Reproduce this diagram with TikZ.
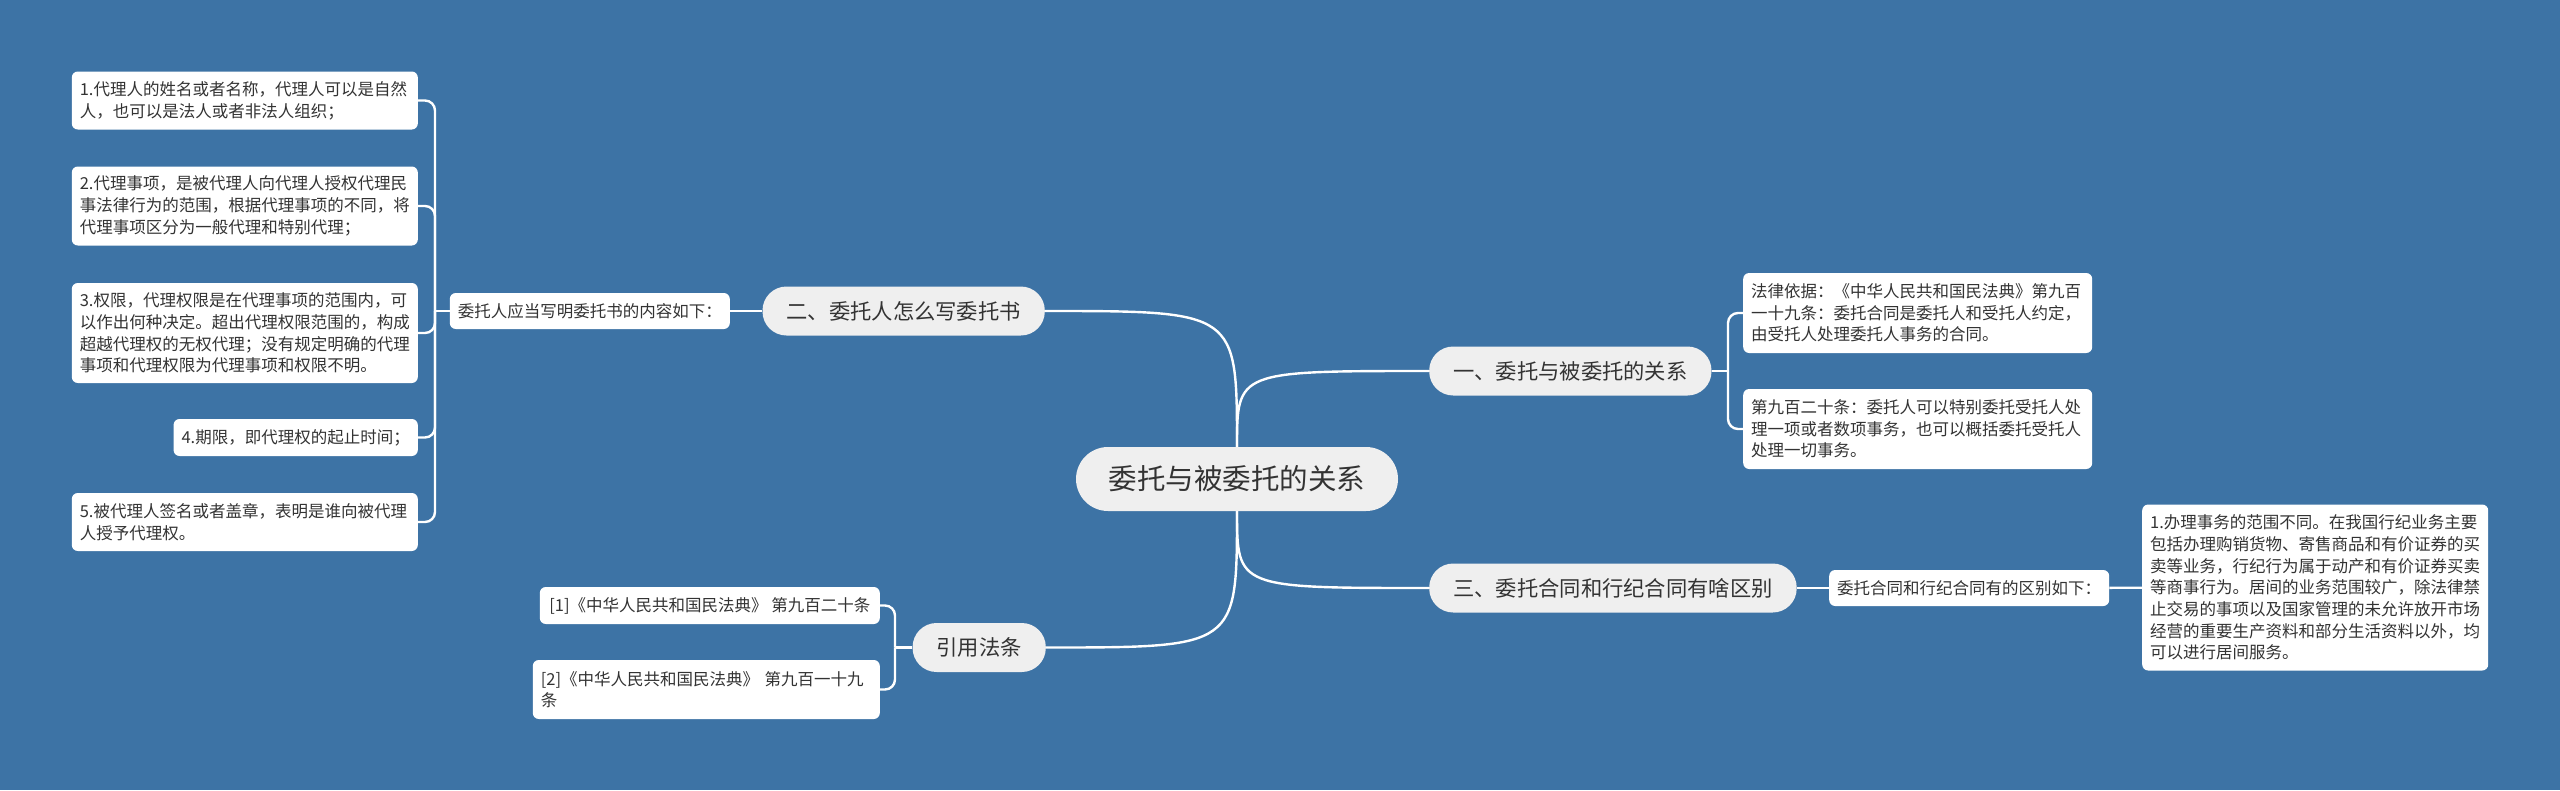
\documentclass[tikz,border=0pt]{standalone}
\usepackage{fontspec}
\setmainfont{Noto Sans CJK SC}
\definecolor{bgblue}{HTML}{3D73A5}
\definecolor{pillgray}{HTML}{EFEFEF}
\definecolor{inkgray}{HTML}{333333}
\tikzset{
	pill/.style={fill=pillgray,text=inkgray,rounded corners=24pt,minimum height=49pt,inner xsep=24pt,inner ysep=0pt,font=\fontsize{21.3}{25}\selectfont},
	leafbox/.style={fill=white,text=inkgray,rounded corners=6pt,inner xsep=8pt,inner ysep=0pt,align=left,font=\fontsize{16.5}{21.7}\selectfont},
	wire/.style={white,line width=2.4pt},
}
\begin{document}
\begin{tikzpicture}[x=1pt,y=-1pt]
		\fill[bgblue] (0,0) rectangle (2560,790);
		\node[pill,font=\fontsize{28.5}{33}\selectfont,rounded corners=32pt,minimum height=64pt,minimum width=322pt,inner xsep=0pt] (root) at (1237,479) {委托与被委托的关系};
		\node[pill,anchor=east] (br2) at (1045,311) {二、委托人怎么写委托书};
		\node[pill,anchor=west] (br1) at (1429,371) {一、委托与被委托的关系};
		\node[pill,anchor=west] (br3) at (1429,588) {三、委托合同和行纪合同有啥区别};
		\node[pill,anchor=east] (br4) at (1046,647.5) {引用法条};
		\node[leafbox,anchor=east,minimum height=36pt] (sub2) at (730,311) {委托人应当写明委托书的内容如下：};
		\node[leafbox,anchor=west,minimum height=36pt] (sub3) at (1829,588) {委托合同和行纪合同有的区别如下：};
		\node[leafbox,anchor=east,text width=330pt,minimum height=58pt] (l1) at (418,100.5) {1.代理人的姓名或者名称，代理人可以是自然\\人，也可以是法人或者非法人组织；};
		\node[leafbox,anchor=east,text width=330pt,minimum height=79pt] (l2) at (418,206) {2.代理事项，是被代理人向代理人授权代理民\\事法律行为的范围，根据代理事项的不同，将\\代理事项区分为一般代理和特别代理；};
		\node[leafbox,anchor=east,text width=330pt,minimum height=100pt] (l3) at (418,333) {3.权限，代理权限是在代理事项的范围内，可\\以作出何种决定。超出代理权限范围的，构成\\超越代理权的无权代理；没有规定明确的代理\\事项和代理权限为代理事项和权限不明。};
		\node[leafbox,anchor=east,minimum height=37pt] (l4) at (418,437.5) {4.期限，即代理权的起止时间；};
		\node[leafbox,anchor=east,text width=330pt,minimum height=58pt] (l5) at (418,522) {5.被代理人签名或者盖章，表明是谁向被代理\\人授予代理权。};
		\node[leafbox,anchor=east,minimum height=37pt,minimum width=340pt] (c1) at (880,605.5) {[1]《中华人民共和国民法典》 第九百二十条};
		\node[leafbox,anchor=east,text width=331pt,minimum height=59pt] (c2) at (880,689.5) {[2]《中华人民共和国民法典》 第九百一十九\\条};
		\node[leafbox,anchor=west,text width=333pt,minimum height=80pt] (r1) at (1743,313) {法律依据：《中华人民共和国民法典》第九百\\一十九条：委托合同是委托人和受托人约定，\\由受托人处理委托人事务的合同。};
		\node[leafbox,anchor=west,text width=333pt,minimum height=80pt] (r2) at (1743,429) {第九百二十条：委托人可以特别委托受托人处\\理一项或者数项事务，也可以概括委托受托人\\处理一切事务。};
		\node[leafbox,anchor=west,text width=330pt,minimum height=166pt] (r3) at (2142,587.5) {1.办理事务的范围不同。在我国行纪业务主要\\包括办理购销货物、寄售商品和有价证券的买\\卖等业务，行纪行为属于动产和有价证券买卖\\等商事行为。居间的业务范围较广，除法律禁\\止交易的事项以及国家管理的未允许放开市场\\经营的重要生产资料和部分生活资料以外，均\\可以进行居间服务。};
		\coordinate (k2) at (435,311);
		\coordinate (k1) at (1728,371);
		\coordinate (k4) at (895,647.5);
		\draw[wire] (root.north) .. controls (root.north |- br2.east) .. (br2.east);
		\draw[wire] (root.north) .. controls (root.north |- br1.west) .. (br1.west);
		\draw[wire] (root.south) .. controls (root.south |- br4.east) .. (br4.east);
		\draw[wire] (root.south) .. controls (root.south |- br3.west) .. (br3.west);
		\draw[wire] (br2) -- (sub2);
		\draw[wire] (sub2) -- (k2);
		\foreach\i in {1,...,5} {
			\draw[wire,rounded corners=10pt] (k2) |- (l\i.east);
		}
		\draw[wire] (br1) -- (k1);
		\foreach\i in {1,2} {
			\draw[wire,rounded corners=10pt] (k1) |- (r\i.west);
		}
		\draw[wire] (br4) -- (k4);
		\foreach\i in {1,2} {
			\draw[wire,rounded corners=10pt] (k4) |- (c\i.east);
		}
		\draw[wire] (br3) -- (sub3);
		\draw[wire] (sub3) -- (r3);
	\end{tikzpicture}
\end{document}
